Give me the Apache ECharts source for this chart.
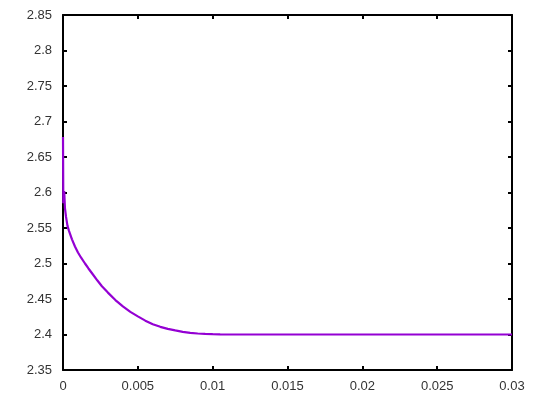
<!DOCTYPE html>
<html><head><meta charset="utf-8">
<script src="https://cdn.jsdelivr.net/npm/echarts@6/dist/echarts.min.js"></script>
<style>html,body{margin:0;padding:0;background:#fff}#c{width:538px;height:404px}</style>
</head><body><div id="c"></div>
<script>
// Main decay curve
const curveX = [0, 0.00002, 0.00008, 0.00013, 0.0002, 0.0003, 0.0004, 0.0006, 0.0008, 0.001, 0.0012, 0.00147, 0.0017, 0.002, 0.0023, 0.0026, 0.003, 0.0035, 0.004, 0.0045, 0.005, 0.0055, 0.006, 0.0065, 0.007, 0.0075, 0.008, 0.0085, 0.009, 0.0095, 0.01, 0.0105, 0.011, 0.03];
const curveY = [2.678, 2.585, 2.602, 2.578, 2.566, 2.553, 2.546, 2.534, 2.524, 2.5155, 2.5085, 2.5, 2.493, 2.4845, 2.476, 2.468, 2.459, 2.4485, 2.4395, 2.4318, 2.4255, 2.4195, 2.4145, 2.4108, 2.408, 2.4058, 2.4038, 2.4024, 2.4014, 2.4008, 2.4004, 2.4001, 2.4, 2.4];
// Small noise spikes on the flat tail
const spikeX = [0.01363, 0.01383, 0.01595, 0.01728, 0.01795, 0.019, 0.02185, 0.0223, 0.02452, 0.02497, 0.0253, 0.02586, 0.02641, 0.02775, 0.02848];
const spikeY = [2.4012, 2.4015, 2.4012, 2.4012, 2.4012, 2.4012, 2.4015, 2.4012, 2.4015, 2.4012, 2.4012, 2.4012, 2.4012, 2.4012, 2.4012];
const baseY = 2.4;

const pts = curveX.map((x, i) => [x, curveY[i]]);
spikeX.forEach((x, i) => {
  pts.push([x - 0.00002, baseY], [x, spikeY[i]], [x + 0.00002, baseY]);
});
pts.sort((a, b) => a[0] - b[0]);

const chart = echarts.init(document.getElementById('c'), null, {renderer: 'canvas'});
const labelStyle = {color: '#333', fontFamily: 'Liberation Sans, Arial, sans-serif', fontSize: 13};
const lineStyle = {color: '#000', width: 2};
chart.setOption({
  animation: false,
  backgroundColor: '#fff',
  grid: {left: 63, right: 26, top: 15, bottom: 34, containLabel: false},
  xAxis: [
    {type: 'value', min: 0, max: 0.03, interval: 0.005, position: 'bottom',
     axisLine: {show: true, onZero: false, lineStyle}, axisTick: {show: true, inside: true, length: 4, lineStyle},
     axisLabel: Object.assign({margin: 10}, labelStyle), splitLine: {show: false}},
    {type: 'value', min: 0, max: 0.03, interval: 0.005, position: 'top',
     axisLine: {show: true, onZero: false, lineStyle}, axisTick: {show: true, inside: true, length: 4, lineStyle},
     axisLabel: {show: false}, splitLine: {show: false}}
  ],
  yAxis: [
    {type: 'value', min: 2.35, max: 2.85, interval: 0.05, position: 'left',
     axisLine: {show: true, onZero: false, lineStyle}, axisTick: {show: true, inside: true, length: 4, lineStyle},
     axisLabel: Object.assign({margin: 11, formatter: v => String(+v.toFixed(2))}, labelStyle), splitLine: {show: false}},
    {type: 'value', min: 2.35, max: 2.85, interval: 0.05, position: 'right',
     axisLine: {show: true, onZero: false, lineStyle}, axisTick: {show: true, inside: true, length: 4, lineStyle},
     axisLabel: {show: false}, splitLine: {show: false}}
  ],
  series: [{
    type: 'line', xAxisIndex: 0, yAxisIndex: 0, data: pts,
    showSymbol: false, symbol: 'none', smooth: false,
    lineStyle: {color: '#9400D3', width: 2.2}
  }]
});
</script></body></html>
